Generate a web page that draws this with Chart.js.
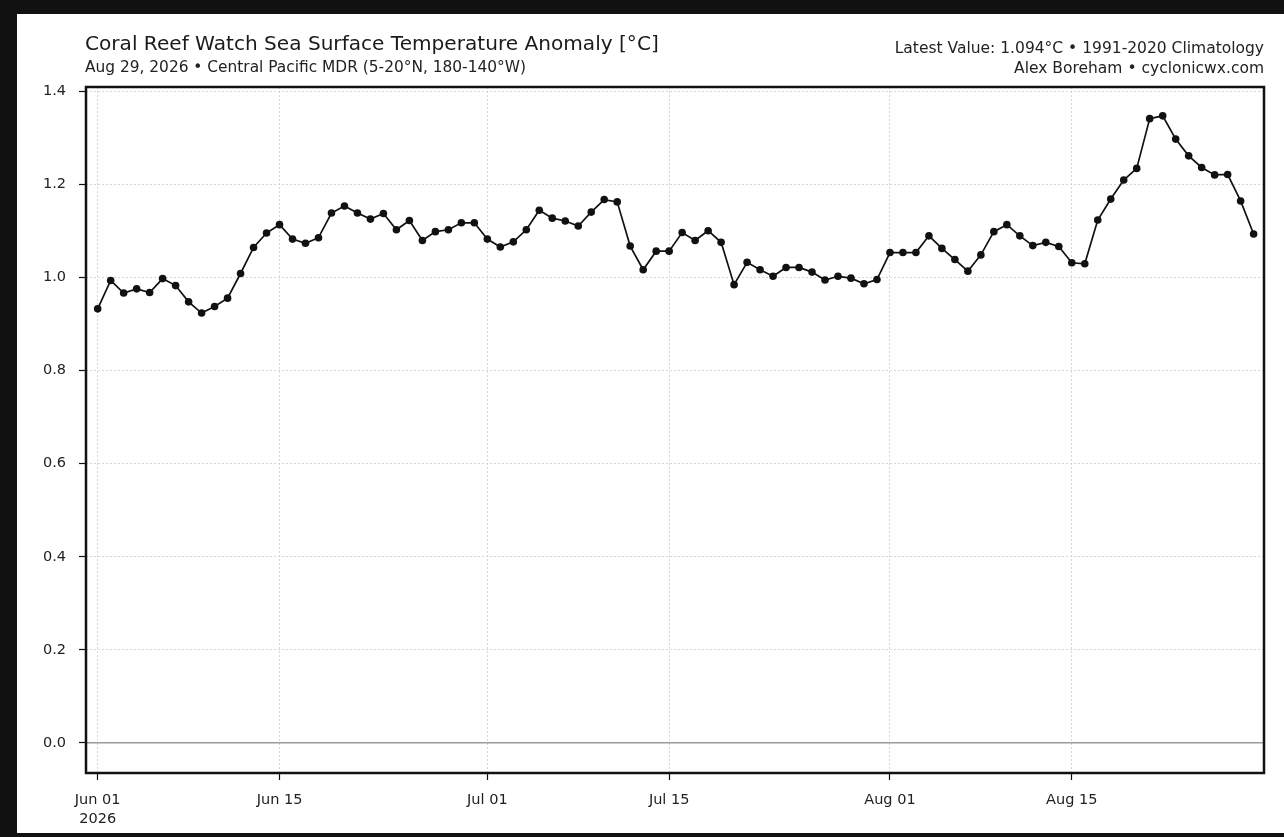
<!DOCTYPE html>
<html lang="en">
<head>
  <meta charset="UTF-8" />
  <title>Coral Reef Watch SST Anomaly - Central Pacific MDR</title>
  <script src="https://cdn.jsdelivr.net/npm/chart.js"></script>
  <style>
    html, body {
      margin: 0;
      padding: 0;
      width: 1284px;
      height: 837px;
      overflow: hidden;
      background: #111;
    }
    .figure {
      position: absolute;
      left: 17px;
      top: 14px;
      width: 1267px;
      height: 819px;
      background: #fff;
      font-family: "DejaVu Sans", sans-serif;
      color: #222;
    }
    .chart-container {
      position: absolute;
      left: 0;
      top: 0;
      width: 1267px;
      height: 819px;
    }
    .head {
      position: absolute;
      white-space: nowrap;
    }
    .title { left: 68px; top: 19px; font-size: 20.1px; line-height: 20px; color: #1a1a1a; }
    .subtitle { left: 68px; top: 46px; font-size: 15.4px; line-height: 15.4px; }
    .info { right: 20px; font-size: 15.5px; line-height: 15.4px; text-align: right; }
  </style>
</head>
<body>
  <div class="figure">
    <div class="chart-container">
      <canvas id="sstChart"></canvas>
    </div>
    <div class="head title">Coral Reef Watch Sea Surface Temperature Anomaly [°C]</div>
    <div class="head subtitle">Aug 29, 2026 • Central Pacific MDR (5-20°N, 180-140°W)</div>
    <div class="head info" style="top:27px">Latest Value: 1.094°C • 1991-2020 Climatology</div>
    <div class="head info" style="top:46.5px">Alex Boreham • cyclonicwx.com</div>
  </div>

  <script>
    // daily SST anomaly, Jun 01 -> Aug 29 2026 (one value per day)
    const sst = [
      0.933, 0.994, 0.967, 0.976, 0.968, 0.998, 0.983, 0.948, 0.924, 0.938,
      0.956, 1.009, 1.065, 1.096, 1.114, 1.083, 1.074, 1.086, 1.139, 1.154,
      1.139, 1.126, 1.138, 1.103, 1.123, 1.080, 1.099, 1.103, 1.118, 1.118,
      1.083, 1.066, 1.077, 1.103, 1.145, 1.128, 1.122, 1.111, 1.141, 1.168,
      1.163, 1.068, 1.017, 1.057, 1.057, 1.097, 1.080, 1.101, 1.076, 0.985,
      1.033, 1.017, 1.003, 1.022, 1.022, 1.012, 0.995, 1.003, 0.999, 0.987,
      0.996, 1.054, 1.054, 1.054, 1.090, 1.063, 1.039, 1.014, 1.049, 1.099,
      1.114, 1.090, 1.069, 1.076, 1.067, 1.032, 1.030, 1.124, 1.169, 1.210,
      1.235, 1.342, 1.348, 1.298, 1.262, 1.237, 1.221, 1.222, 1.165, 1.094
    ];

    // x ticks: day offset from Jun 01 and their labels
    const xTickDays = [0, 14, 30, 44, 61, 75];
    const xTickLabels = [['Jun 01', '2026'], 'Jun 15', 'Jul 01', 'Jul 15', 'Aug 01', 'Aug 15'];
    const yTickValues = [0.0, 0.2, 0.4, 0.6, 0.8, 1.0, 1.2, 1.4];

    const tickFont = { family: 'DejaVu Sans', size: 14.5, lineHeight: 1.3 };

    // zero line under the data, black frame round the axes
    const axesDecor = {
      id: 'axesDecor',
      beforeDatasetsDraw(chart) {
        const { ctx, chartArea: a, scales: { y } } = chart;
        const y0 = y.getPixelForValue(0);
        ctx.save();
        ctx.strokeStyle = '#9a9a9a';
        ctx.lineWidth = 1.5;
        ctx.beginPath();
        ctx.moveTo(a.left, y0);
        ctx.lineTo(a.right, y0);
        ctx.stroke();
        ctx.restore();
      },
      afterDraw(chart) {
        const { ctx, chartArea: a } = chart;
        ctx.save();
        ctx.strokeStyle = '#111';
        ctx.lineWidth = 2.5;
        ctx.strokeRect(a.left, a.top, a.right - a.left, a.bottom - a.top);
        ctx.restore();
      }
    };

    const ctx = document.getElementById('sstChart').getContext('2d');
    new Chart(ctx, {
      type: 'line',
      data: {
        datasets: [{
          label: 'SST anomaly',
          data: sst.map((v, i) => ({ x: i, y: v })),
          borderColor: '#111',
          borderWidth: 1.7,
          pointRadius: 3.8,
          pointBorderWidth: 0,
          pointBackgroundColor: '#111',
          tension: 0
        }]
      },
      options: {
        responsive: true,
        maintainAspectRatio: false,
        animation: false,
        layout: { padding: { top: 73, right: 20, bottom: 0, left: 0 } },
        plugins: {
          legend: { display: false },
          tooltip: { enabled: false }
        },
        scales: {
          x: {
            type: 'linear',
            min: -0.9,
            max: 89.8,
            afterFit: s => { s.height = 60; },
            afterBuildTicks: s => { s.ticks = xTickDays.map(v => ({ value: v })); },
            ticks: {
              autoSkip: false,
              maxRotation: 0,
              padding: 11,
              color: '#222',
              font: tickFont,
              callback: v => xTickLabels[xTickDays.indexOf(v)]
            },
            grid: {
              color: '#cccccc',
              lineWidth: 0.8,
              tickColor: '#111',
              tickLength: 7,
              tickWidth: 1.2,
              tickBorderDash: []
            },
            border: { display: false, dash: [2, 2] }
          },
          y: {
            min: -0.065,
            max: 1.41,
            afterFit: s => { s.width = 69; },
            afterBuildTicks: s => { s.ticks = yTickValues.map(v => ({ value: v })); },
            ticks: {
              padding: 13,
              color: '#222',
              font: tickFont,
              callback: v => v.toFixed(1)
            },
            grid: {
              color: '#cccccc',
              lineWidth: 0.8,
              tickColor: '#111',
              tickLength: 7,
              tickWidth: 1.2,
              tickBorderDash: []
            },
            border: { display: false, dash: [2, 2] }
          }
        }
      },
      plugins: [axesDecor]
    });
  </script>
</body>
</html>
